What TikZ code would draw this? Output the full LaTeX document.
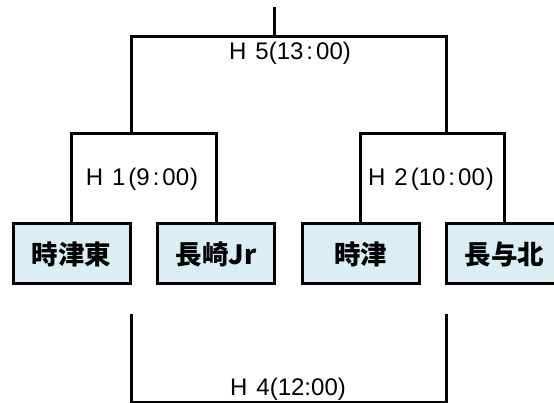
\documentclass[tikz,border=0pt]{standalone}
\usepackage{fontspec}
\setmainfont{Noto Sans CJK JP}
\newfontfamily\latinlabel{Liberation Sans}
\definecolor{boxfill}{HTML}{DAEEF3}
\newcommand{\sco}{\hspace{3pt}:\hspace{3pt}}
\newcommand{\hsp}{\hspace{9pt}}
\tikzset{
  team/.style={draw=black, line width=3pt, fill=boxfill, minimum width=117pt, minimum height=60pt, inner sep=0pt, font=\fontsize{26.5}{26.5}\selectfont\bfseries},
  game/.style={inner sep=0pt, font=\latinlabel\fontsize{24}{24}\selectfont},
  wire/.style={line width=3pt}
}
\begin{document}
\begin{tikzpicture}[x=1pt,y=-1pt]
\clip (0,0) rectangle (554,403);
\node[team] (b1) at (71.5,254) {時津東};
\node[team] (b2) at (216,254) {長崎Jr};
\node[team] (b3) at (360.5,254) {時津};
\node[team] (b4) at (504.5,254) {長与北};
\coordinate (h1) at (144,134);
\coordinate (h2) at (432,134);
\coordinate (j1) at (131,134);
\coordinate (j2) at (446,134);
\coordinate (h5) at (274,37);
\coordinate (top) at (274,7);
\coordinate (k1) at (131,314);
\coordinate (k2) at (446,314);
\coordinate (h4) at (288,402);
\draw[wire] (b1.north) |- (h1) -| (b2.north);
\draw[wire] (b3.north) |- (h2) -| (b4.north);
\draw[wire] (j1) |- (h5) -| (j2);
\draw[wire] (h5) -- (top);
\draw[wire] (k1) |- (h4) -| (k2);
\node[game] (l1) at (142,179) {H\hsp 1\hspace{3pt}(9\sco 00\hspace{1pt})};
\node[game] (l2) at (431,179) {H\hsp 2\hspace{3pt}(10\sco 00\hspace{1pt})};
\node[game] (l5) at (290,53) {H\hsp 5(13\sco 00)};
\node[game] (l4) at (288,389) {H\hsp 4(12:00)};
\end{tikzpicture}
\end{document}
